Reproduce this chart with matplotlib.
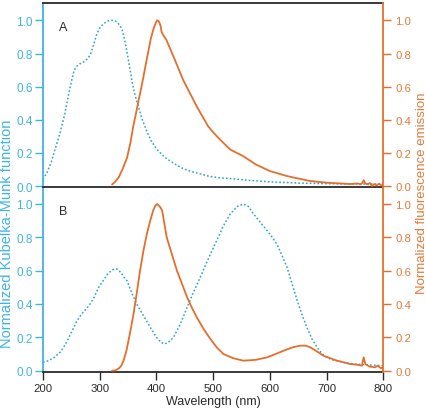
import matplotlib
matplotlib.use("Agg")
import matplotlib.pyplot as plt

plt.rcParams['font.family'] = ['Liberation Sans', 'DejaVu Sans']

# ---- data ----
a_km_wl = [200, 207, 215, 222, 230, 238, 245, 250, 255, 260, 266, 272, 279, 284, 289, 295, 301, 307, 313, 318, 323, 328, 333, 339, 344, 348, 352, 357, 362, 368, 375, 383, 391, 401, 414, 429, 444, 459, 475, 491, 510, 530, 560, 600, 650, 700, 750, 800]
a_km    = [0.04, 0.08, 0.15, 0.23, 0.32, 0.43, 0.55, 0.63, 0.70, 0.725, 0.74, 0.75, 0.77, 0.80, 0.85, 0.92, 0.96, 0.98, 0.995, 1.0, 1.0, 0.995, 0.98, 0.95, 0.88, 0.81, 0.73, 0.63, 0.55, 0.48, 0.40, 0.33, 0.27, 0.22, 0.175, 0.14, 0.11, 0.09, 0.075, 0.06, 0.05, 0.045, 0.035, 0.025, 0.018, 0.014, 0.012, 0.012]

a_fl_wl = [322, 327, 333, 340, 348, 354, 359, 364, 368, 373, 377, 382, 386, 390, 394, 398, 401, 404, 407, 409, 412, 417, 424, 435, 447, 459, 471, 481, 491, 501, 512, 530, 553, 575, 600, 630, 650, 671, 700, 741, 755, 760, 763, 765, 768, 772, 776, 780, 784, 788, 792, 796, 800]
a_fl    = [0.01, 0.025, 0.05, 0.10, 0.17, 0.26, 0.36, 0.44, 0.51, 0.59, 0.66, 0.75, 0.82, 0.89, 0.94, 0.98, 1.0, 0.995, 0.97, 0.93, 0.91, 0.885, 0.83, 0.74, 0.64, 0.56, 0.48, 0.42, 0.36, 0.32, 0.28, 0.22, 0.18, 0.13, 0.09, 0.06, 0.045, 0.03, 0.02, 0.012, 0.015, 0.01, 0.02, 0.035, 0.015, 0.01, 0.018, 0.0, 0.012, 0.003, 0.014, 0.004, 0.008]

b_km_wl = [200, 210, 220, 230, 240, 250, 260, 268, 276, 283, 290, 298, 306, 314, 322, 330, 337, 343, 348, 356, 365, 377, 389, 400, 408, 414, 421, 430, 442, 454, 465, 477, 486, 495, 506, 518, 530, 542, 553, 562, 571, 583, 595, 604, 612, 620, 630, 639, 648, 657, 665, 674, 683, 692, 700, 710, 718, 735, 750, 770, 800]
b_km    = [0.05, 0.06, 0.08, 0.11, 0.16, 0.23, 0.30, 0.34, 0.37, 0.40, 0.44, 0.50, 0.54, 0.58, 0.605, 0.61, 0.59, 0.56, 0.54, 0.47, 0.40, 0.33, 0.26, 0.20, 0.17, 0.16, 0.17, 0.20, 0.28, 0.38, 0.47, 0.56, 0.63, 0.70, 0.78, 0.87, 0.94, 0.985, 1.0, 0.985, 0.94, 0.89, 0.84, 0.80, 0.76, 0.70, 0.62, 0.52, 0.42, 0.33, 0.26, 0.19, 0.14, 0.10, 0.08, 0.065, 0.06, 0.045, 0.04, 0.035, 0.03]

b_fl_wl = [322, 328, 334, 338, 342, 347, 353, 359, 365, 371, 377, 383, 389, 394, 398, 401, 404, 407, 410, 414, 418, 427, 436, 445, 454, 462, 471, 483, 495, 506, 518, 535, 553, 575, 595, 610, 624, 640, 653, 663, 671, 683, 694, 706, 718, 730, 741, 755, 762, 765, 768, 775, 785, 790, 795, 800]
b_fl    = [0.0, 0.002, 0.015, 0.03, 0.06, 0.12, 0.22, 0.33, 0.46, 0.60, 0.72, 0.82, 0.90, 0.96, 0.99, 1.0, 0.99, 0.98, 0.96, 0.88, 0.80, 0.70, 0.60, 0.52, 0.44, 0.38, 0.32, 0.25, 0.19, 0.14, 0.10, 0.075, 0.06, 0.065, 0.08, 0.10, 0.12, 0.14, 0.15, 0.15, 0.14, 0.115, 0.09, 0.075, 0.06, 0.05, 0.04, 0.035, 0.03, 0.08, 0.04, 0.025, 0.02, 0.03, 0.015, 0.02]

panel_labels = ["A", "B"]
yticks = [0.0, 0.2, 0.4, 0.6, 0.8, 1.0]
xticks = [200, 300, 400, 500, 600, 700, 800]

blue = "#3fb4e2"
blue_line = "#2aa5c8"
orange = "#e46f2d"
orange_lab = "#e07a3a"
dark = "#2a2a2a"

W, H = 427, 414
fig = plt.figure(figsize=(W / 100, H / 100), dpi=100)

left = 43 / W
right = 383.5 / W
top_a = 1 - 3.5 / H
mid = 1 - 188 / H
bot_b = 1 - 372.5 / H

axB = fig.add_axes([left, bot_b, right - left, mid - bot_b])
axA = fig.add_axes([left, mid, right - left, top_a - mid])
axA.patch.set_visible(False)

series = [(axA, a_km_wl, a_km, a_fl_wl, a_fl, (-0.006, 1.108)),
          (axB, b_km_wl, b_km, b_fl_wl, b_fl, (-0.005, 1.102))]

fs_l = 8.5
fs_r = 8.2
for i, (ax, kw, kv, fw, fv, yl) in enumerate(series):
    ax.plot(kw, kv, color=blue_line, lw=1.1, ls=(0, (1.1, 1.4)))
    ax.set_xlim(200, 800)
    ax.set_ylim(*yl)
    ax.set_yticks(yticks)
    ax.set_yticklabels([f"{t:.1f}" for t in yticks])
    ax.tick_params(axis='y', colors=blue, labelcolor=blue, labelsize=fs_l,
                   length=5.5, width=1, direction='out', pad=2)
    ax.spines['left'].set_color(blue)
    ax.spines['left'].set_linewidth(1.3)
    ax.spines['right'].set_visible(False)
    ax.spines['top'].set_color(dark)
    ax.spines['top'].set_linewidth(1.3)
    ax.spines['bottom'].set_color(dark)
    ax.spines['bottom'].set_linewidth(1.3)
    ax.text(228, 0.96, panel_labels[i], fontsize=9, color=dark,
            va='center', ha='left')

    ax2 = ax.twinx()
    ax2.plot(fw, fv, color=orange, lw=1.3, solid_joinstyle='round')
    ax2.set_ylim(*yl)
    ax2.set_yticks(yticks)
    ax2.set_yticklabels([f"{t:.1f}" for t in yticks])
    ax2.tick_params(axis='y', colors=orange, labelcolor=orange_lab, labelsize=fs_r,
                    length=5.5, width=1, direction='out', pad=3)
    ax2.spines['right'].set_color(orange)
    ax2.spines['right'].set_linewidth(1.3)
    ax2.spines['left'].set_visible(False)
    ax2.spines['top'].set_visible(False)
    ax2.spines['bottom'].set_visible(False)

axA.tick_params(axis='x', bottom=False, labelbottom=False)
axA.set_xticks(xticks)
axB.set_xticks(xticks)
axB.tick_params(axis='x', colors=dark, labelsize=8.2, length=5.5, width=1,
                direction='out', pad=3)
axB.spines['top'].set_visible(False)
axB.set_xlabel("Wavelength (nm)", fontsize=9, color=dark, labelpad=1)

fig.text(7 / W, 1 - 234 / H, "Normalized Kubelka-Munk function", rotation=90,
         color=blue, fontsize=10.5, ha='center', va='center')
fig.text(422 / W, 1 - 193 / H, "Normalized fluorescence emission", rotation=90,
         color=orange_lab, fontsize=9.5, ha='center', va='center')

fig.savefig("out.png", dpi=100)
